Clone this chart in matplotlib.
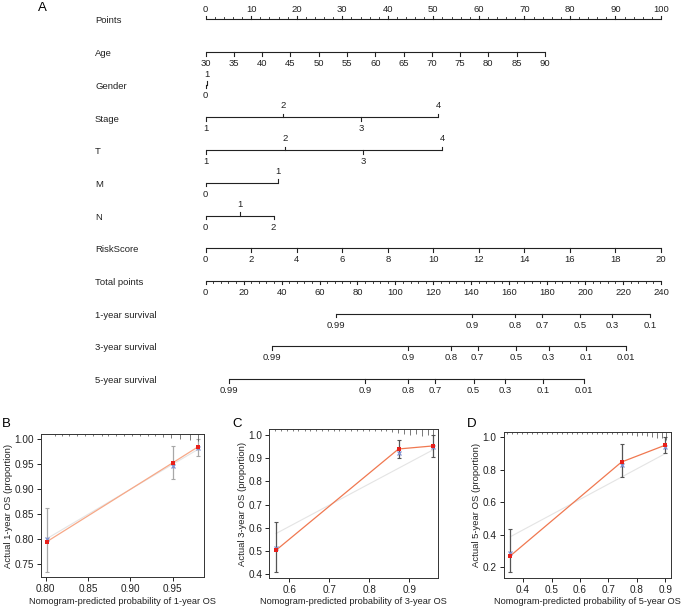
import numpy as np
import matplotlib
matplotlib.use("Agg")
import matplotlib.pyplot as plt

plt.rcParams['font.family'] = ['Liberation Sans', 'DejaVu Sans']

# ---------------- nomogram data ----------------
row_names = ['Points', 'Age', 'Gender', 'Stage', 'T', 'M', 'N', 'RiskScore',
             'Total points', '1-year survival', '3-year survival', '5-year survival']

points_labels = [0, 10, 20, 30, 40, 50, 60, 70, 80, 90, 100]
age_values = [30, 35, 40, 45, 50, 55, 60, 65, 70, 75, 80, 85, 90]
age_max_points = 74.5
gender_values = ['0', '1']
gender_points = [0.0, 0.25]
stage_values = ['1', '2', '3', '4']
stage_points = [0.0, 17.0, 34.1, 51.1]
t_values = ['1', '2', '3', '4']
t_points = [0.0, 17.4, 34.6, 52.0]
m_values = ['0', '1']
m_points = [0.0, 15.8]
n_values = ['0', '1', '2']
n_points = [0.0, 7.5, 14.9]
risk_values = [0, 2, 4, 6, 8, 10, 12, 14, 16, 18, 20]
total_values = [0, 20, 40, 60, 80, 100, 120, 140, 160, 180, 200, 220, 240]

surv1_labels = ['0.99', '0.9', '0.8', '0.7', '0.5', '0.3', '0.1']
surv1_total = [68.6, 140.3, 163.0, 177.2, 197.4, 214.4, 234.4]
surv3_labels = ['0.99', '0.9', '0.8', '0.7', '0.5', '0.3', '0.1', '0.01']
surv3_total = [34.8, 106.6, 129.4, 143.3, 163.7, 180.7, 200.4, 221.5]
surv5_labels = ['0.99', '0.9', '0.8', '0.7', '0.5', '0.3', '0.1', '0.01']
surv5_total = [12.3, 84.0, 106.9, 121.1, 141.2, 158.0, 177.8, 199.2]

# ---------------- calibration data ----------------
b_pred = [0.801, 0.950, 0.980]
b_obs = [0.795, 0.953, 0.985]
b_lo = [0.734, 0.920, 0.967]
b_hi = [0.862, 0.987, 1.000]
b_corr = [0.800, 0.947, 0.982]
b_ref = [[0.801, 0.980], [0.801, 0.980]]
b_rug = [0.811, 0.819, 0.828, 0.837, 0.846, 0.856, 0.866, 0.874, 0.883, 0.892,
         0.902, 0.911, 0.921, 0.929, 0.939, 0.948, 0.959, 0.970, 0.980]
b_rug_h = [1.5, 1.5, 1.5, 1.5, 1.5, 1.5, 1.5, 1.5, 1.5, 1.5,
           1.5, 1.5, 1.5, 1.5, 3, 4, 5, 6, 7]

c_pred = [0.567, 0.873, 0.958]
c_obs = [0.503, 0.940, 0.953]
c_lo = [0.407, 0.900, 0.905]
c_hi = [0.623, 0.978, 1.000]
c_corr = [0.512, 0.922, 0.950]
c_ref = [[0.567, 0.958], [0.575, 0.935]]
c_rug = [0.563, 0.579, 0.593, 0.608, 0.622, 0.638, 0.652, 0.667, 0.682, 0.696,
         0.711, 0.725, 0.740, 0.754, 0.769, 0.784, 0.799, 0.813, 0.828, 0.842,
         0.857, 0.872, 0.887, 0.902, 0.917, 0.932, 0.947, 0.959]
c_rug_h = [1.5, 1.5, 1.5, 1.5, 1.5, 1.5, 1.5, 1.5, 1.5, 1.5,
           1.5, 1.5, 1.5, 1.5, 1.5, 1.5, 1.5, 1.5, 2, 2,
           3, 4, 5, 6, 5, 7, 6, 8]

d_pred = [0.355, 0.746, 0.900]
d_obs = [0.270, 0.848, 0.952]
d_lo = [0.169, 0.754, 0.905]
d_hi = [0.434, 0.958, 1.000]
d_corr = [0.285, 0.830, 0.940]
d_ref = [[0.355, 0.900], [0.388, 0.900]]
d_rug = [0.343, 0.360, 0.378, 0.395, 0.413, 0.431, 0.448, 0.466, 0.483, 0.501,
         0.519, 0.536, 0.554, 0.571, 0.589, 0.606, 0.624, 0.641, 0.659, 0.676,
         0.694, 0.712, 0.729, 0.747, 0.764, 0.782, 0.799, 0.817, 0.834, 0.852,
         0.870, 0.887, 0.902]
d_rug_h = [1.5, 1.5, 1.5, 1.5, 1.5, 1.5, 1.5, 1.5, 1.5, 1.5,
           1.5, 1.5, 1.5, 1.5, 1.5, 1.5, 1.5, 1.5, 1.5, 1.5,
           2, 2, 2, 3, 2, 3, 4, 3, 4, 5,
           6, 6, 8]

W, H = 682, 610
fig = plt.figure(figsize=(W / 100, H / 100), dpi=100)
LC = '#222222'
FS = 6.8

# ---------------- nomogram ----------------
px_per_pt = 4.553
x0 = 205.7
row_px = 32.7
row0 = 19.3
axn = fig.add_axes([0, 1 - 395 / H, 1, 395 / H])
axn.set_xlim(-x0 / px_per_pt, (W - x0) / px_per_pt)
axn.set_ylim((395 - row0) / row_px, -row0 / row_px)
axn.axis('off')

TL = 3.5 / row_px
TLm = 2.0 / row_px
OFF = 11.5 / row_px


def scale(row, pos, labels, sides, minor=None, off=OFF):
    axn.plot([min(pos), max(pos)], [row, row], color=LC, lw=0.8, solid_capstyle='butt')
    for p, lab, s in zip(pos, labels, sides):
        d = -1 if s == 'up' else 1
        axn.plot([p, p], [row, row + d * TL], color=LC, lw=0.8)
        axn.text(p, row + d * off, lab, ha='center', va='center', fontsize=FS, color=LC)
    if minor is not None:
        d = -1 if sides[0] == 'up' else 1
        for p in minor:
            axn.plot([p, p], [row, row + d * TLm], color=LC, lw=0.6)


for i, name in enumerate(row_names):
    axn.text(-24.3, i + 0.05, name, ha='left', va='center', fontsize=FS, color=LC)

scale(0, points_labels, [str(v) for v in points_labels], ['up'] * 11,
      minor=np.arange(0, 101, 2), off=10 / row_px)

age_pts = [(a - 30) * age_max_points / 60 for a in age_values]
scale(1, age_pts, [str(a) for a in age_values], ['down'] * len(age_values))

scale(2, gender_points, gender_values, ['down', 'up'], off=10.5 / row_px)
scale(3, stage_points, stage_values, ['down', 'up', 'down', 'up'])
scale(4, t_points, t_values, ['down', 'up', 'down', 'up'])
scale(5, m_points, m_values, ['down', 'up'])
scale(6, n_points, n_values, ['down', 'up', 'down'])

risk_pts = [r * 100 / 20 for r in risk_values]
scale(7, risk_pts, [str(r) for r in risk_values], ['down'] * len(risk_values))

tot_pts = [t * 100 / 240 for t in total_values]
scale(8, tot_pts, [str(t) for t in total_values], ['down'] * len(total_values),
      minor=np.arange(0, 241, 4) * 100 / 240)

for row, labs, tot in [(9, surv1_labels, surv1_total),
                       (10, surv3_labels, surv3_total),
                       (11, surv5_labels, surv5_total)]:
    scale(row, [t * 100 / 240 for t in tot], labs, ['down'] * len(labs))

fig.text(38 / W, 1 - 8 / H, 'A', fontsize=9.5, ha='left', va='center')


# ---------------- calibration panels ----------------
def calib(rect, pred, obs, lo, hi, corr, ref, rug, rug_h, xlim, ylim, xticks, yticks,
          fmt, yr, letter, letter_xy, line_col, err_col):
    ax = fig.add_axes([rect[0] / W, 1 - rect[3] / H, (rect[1] - rect[0]) / W,
                       (rect[3] - rect[2]) / H])
    ax_h = rect[3] - rect[2]
    ax.plot(ref[0], ref[1], color='#e4e4e4', lw=0.8, zorder=1)
    ax.errorbar(pred, obs, yerr=[np.array(obs) - np.array(lo), np.array(hi) - np.array(obs)],
                fmt='none', ecolor=err_col, elinewidth=0.9, capsize=1.5, capthick=0.8, zorder=2)
    ax.plot(pred, obs, color=line_col, lw=0.9, zorder=3)
    ax.plot(pred, corr, 'x', color='#8090d0', ms=2.5, mew=0.9, zorder=4)
    ax.plot(pred, obs, 's', color='#e8201b', ms=2.2, mew=0, zorder=5)
    ax.vlines(rug, [1 - h / ax_h for h in rug_h], 1, transform=ax.get_xaxis_transform(),
              color='#444444', lw=0.5)
    ax.set_xlim(xlim)
    ax.set_ylim(ylim)
    ax.set_xticks(xticks)
    ax.set_yticks(yticks)
    ax.set_xticklabels([fmt.format(v) for v in xticks])
    ax.set_yticklabels([fmt.format(v) for v in yticks])
    ax.tick_params(direction='out', length=3, width=0.7, labelsize=FS + 0.4, pad=2, colors=LC)
    for s in ax.spines.values():
        s.set_linewidth(0.7)
        s.set_color('#333333')
    ax.set_xlabel('Nomogram-predicted probability of %s-year OS' % yr, fontsize=FS - 0.1,
                  labelpad=2, color=LC)
    ax.set_ylabel('Actual %s-year OS (proportion)' % yr, fontsize=FS, labelpad=1, color=LC)
    fig.text(letter_xy[0] / W, 1 - letter_xy[1] / H, letter, fontsize=9.5, ha='left', va='center')
    return ax


calib((40.7, 204, 434.3, 577.3), b_pred, b_obs, b_lo, b_hi, b_corr, b_ref, b_rug, b_rug_h,
      (0.794, 0.987), (0.724, 1.01), [0.80, 0.85, 0.90, 0.95],
      [0.75, 0.80, 0.85, 0.90, 0.95, 1.00], '{:.2f}', '1', 'B', (2, 424),
      '#f7a887', '#a8a8a8')
calib((269.3, 438.3, 429.3, 577.7), c_pred, c_obs, c_lo, c_hi, c_corr, c_ref, c_rug, c_rug_h,
      (0.55, 0.9725), (0.384, 1.025), [0.6, 0.7, 0.8, 0.9],
      [0.4, 0.5, 0.6, 0.7, 0.8, 0.9, 1.0], '{:.1f}', '3', 'C', (232, 424),
      '#f07850', '#555555')
calib((503.7, 671.3, 432.3, 577.7), d_pred, d_obs, d_lo, d_hi, d_corr, d_ref, d_rug, d_rug_h,
      (0.332, 0.921), (0.136, 1.031), [0.4, 0.5, 0.6, 0.7, 0.8, 0.9],
      [0.2, 0.4, 0.6, 0.8, 1.0], '{:.1f}', '5', 'D', (467, 424),
      '#f07850', '#555555')

fig.savefig('out.png', dpi=100)
